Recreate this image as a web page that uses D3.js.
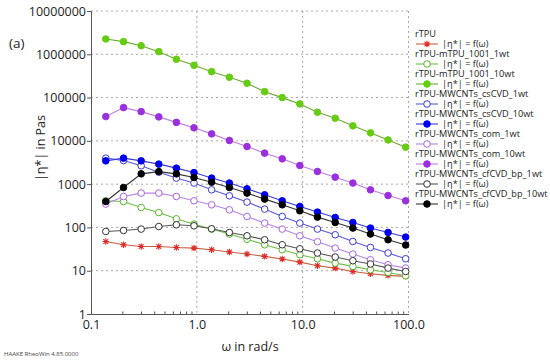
<!DOCTYPE html>
<html><head><meta charset="utf-8">
<script src="https://cdn.jsdelivr.net/npm/d3@7/dist/d3.min.js"></script>
<style>body{margin:0;background:#fff}svg{display:block}text{font-family:"Open Sans","Noto Sans",sans-serif}</style>
</head><body><svg id="c" width="550" height="362"></svg>
<script>
const omega = [0.138,0.203,0.298,0.437,0.641,0.94,1.38,2.03,2.98,4.37,6.41,9.4,13.8,20.3,29.8,43.7,64.1,94];
const names = ["rTPU","rTPU-mTPU_1001_1wt","rTPU-mTPU_1001_10wt","rTPU-MWCNTs_csCVD_1wt","rTPU-MWCNTs_csCVD_10wt","rTPU-MWCNTs_com_1wt","rTPU-MWCNTs_com_10wt","rTPU-MWCNTs_cfCVD_bp_1wt","rTPU-MWCNTs_cfCVD_bp_10wt"];
const rTPU = [47.4,39.8,36.3,36.3,34.4,33.3,30.5,27,24.3,21.4,18.6,15.8,13,11.5,9.6,8.5,7.8,7.4];
const mTPU_1wt = [412,397,288,221,158,119,91.6,70.3,53.3,39.8,30.5,23.4,18.9,15,12.6,10.5,9.1,7.65];
const mTPU_10wt = [2.26e6,1.96e6,1.58e6,1.15e6,7.68e5,5.58e5,3.97e5,2.95e5,2.14e5,1.37e5,9.98e4,7.14e4,4.59e4,3.34e4,2.22e4,1.53e4,1.05e4,7150];
const csCVD_1wt = [3990,3510,2650,1890,1380,1060,740,537,385,265,179,126,91.6,67.6,47.4,34.5,25.6,18.9];
const csCVD_10wt = [3450,3990,3450,2900,2340,1850,1380,1060,780,567,412,305,226,170,130,96.7,76.5,59.9];
const com_1wt = [346,518,621,621,518,412,333,255,179,126,91.6,64.1,46.7,33.3,24.3,17.9,13.7,11.5];
const com_10wt = [3.64e4,5.86e4,4.74e4,3.58e4,2.67e4,2.0e4,1.45e4,1.02e4,7380,5200,3840,2690,1960,1450,1060,740,546,412];
const cfCVD_1wt = [80.7,85.1,91.6,105,115,109,93.1,76.4,64.1,51.9,39.8,32.1,25.6,20.7,17,14.3,11.5,9.6];
const cfCVD_10wt = [397,836,1730,1950,1730,1420,1110,836,621,451,333,242,173,130,96.7,70.3,51.9,39.2];
const yTicks = [1,10,100,1000,10000,100000,1000000,10000000];
const xTicks = [0.1,1,10,100];
const xTickLabels = ["0.1","1.0","10.0","100.0"];

const seriesData = [rTPU,mTPU_1wt,mTPU_10wt,csCVD_1wt,csCVD_10wt,com_1wt,com_10wt,cfCVD_1wt,cfCVD_10wt];
const styles = [
 {line:"#c8603c", mark:"#e02a2a", type:"star"},
 {line:"#6cbf45", mark:"#55b52a", type:"open"},
 {line:"#6aaa30", mark:"#66cc11", type:"fill"},
 {line:"#5a5ad8", mark:"#3b3bd6", type:"open"},
 {line:"#3a3ad0", mark:"#0000ee", type:"fill"},
 {line:"#b784e4", mark:"#a865e0", type:"open"},
 {line:"#bf7de0", mark:"#9a30dd", type:"fill"},
 {line:"#555555", mark:"#333333", type:"open"},
 {line:"#333333", mark:"#000000", type:"fill"}
];

const svg = d3.select("#c");
const x = d3.scaleLog().domain([0.1,100]).range([91,408.5]);
const y = d3.scaleLog().domain([1,1e7]).range([314,11]);

// grid
svg.append("g").selectAll("line").data(yTicks.slice(1)).join("line")
  .attr("x1",91).attr("x2",408.5).attr("y1",d=>y(d)).attr("y2",d=>y(d))
  .attr("stroke","#a8a8a8").attr("stroke-width",1).attr("stroke-dasharray","2,3");
svg.append("g").selectAll("line").data(xTicks.slice(1)).join("line")
  .attr("x1",d=>x(d)).attr("x2",d=>x(d)).attr("y1",11).attr("y2",314)
  .attr("stroke","#a8a8a8").attr("stroke-width",1).attr("stroke-dasharray","2,3");

// axes
const yAxis = d3.axisLeft(y).tickValues(yTicks).tickFormat(d3.format("d")).tickSize(4).tickPadding(1);
const gy = svg.append("g").attr("transform","translate(91,0)").call(yAxis);
gy.select(".domain").attr("stroke","#555");
gy.selectAll(".tick line").attr("stroke","#555");
gy.selectAll("text").attr("font-size",12.5).attr("fill","#222").attr("font-family","'Open Sans',sans-serif");

const minor = [];
[0.1,1,10].forEach(b=>{for(let k=2;k<=9;k++) minor.push(b*k);});
const xAxis = d3.axisBottom(x).tickValues(xTicks).tickFormat((d,i)=>xTickLabels[i]).tickSize(0).tickPadding(6);
const gx = svg.append("g").attr("transform","translate(0,314)").call(xAxis);
gx.select(".domain").attr("stroke","#555");
gx.selectAll("text").attr("font-size",12.5).attr("fill","#222").attr("font-family","'Open Sans',sans-serif");
gx.append("g").selectAll("line").data(minor).join("line")
  .attr("x1",d=>x(d)).attr("x2",d=>x(d)).attr("y1",0).attr("y2",-2.5).attr("stroke","#555");

// series
const line = d3.line().x((d,i)=>x(omega[i])).y(d=>y(d));
function marker(g, cx, cy, st){
  if(st.type==="star"){
    const r=3.2;
    g.append("path").attr("d",`M${cx-r},${cy}H${cx+r}M${cx},${cy-r}V${cy+r}M${cx-r*0.75},${cy-r*0.75}L${cx+r*0.75},${cy+r*0.75}M${cx-r*0.75},${cy+r*0.75}L${cx+r*0.75},${cy-r*0.75}`)
      .attr("stroke",st.mark).attr("stroke-width",1.1).attr("fill","none");
  } else {
    g.append("circle").attr("cx",cx).attr("cy",cy).attr("r",3.3)
      .attr("fill",st.type==="fill"?st.mark:"#fff").attr("stroke",st.mark).attr("stroke-width",1);
  }
}
seriesData.forEach((vals,si)=>{
  const st = styles[si];
  const g = svg.append("g");
  g.append("path").attr("d",line(vals)).attr("fill","none").attr("stroke",st.line).attr("stroke-width",1.1);
  vals.forEach((v,i)=>marker(g,x(omega[i]),y(v),st));
});

// legend
const lg = svg.append("g");
names.forEach((n,i)=>{
  const ty = 34 + i*20;
  lg.append("text").attr("x",415).attr("y",ty+3.2).attr("font-size",9.2).attr("font-family","Lato, sans-serif").attr("fill","#222").text(n);
  const sy = ty + 10;
  lg.append("line").attr("x1",416).attr("x2",438).attr("y1",sy).attr("y2",sy).attr("stroke",styles[i].line).attr("stroke-width",1.1);
  marker(lg,427,sy,styles[i]);
  lg.append("text").attr("x",442).attr("y",sy+3.2).attr("font-size",9.2).attr("font-family","Lato, sans-serif").attr("fill","#222").text("|η*| = f(ω)");
});

// titles
svg.append("text").attr("x",250).attr("y",351).attr("text-anchor","middle").attr("font-size",12.5).attr("fill","#222").text("ω in rad/s");
svg.append("text").attr("transform","translate(45,148) rotate(-90)").attr("text-anchor","middle").attr("font-size",12.5).attr("fill","#222").text("|η*| in Pas");
svg.append("text").attr("x",9).attr("y",48).attr("font-size",13.5).attr("fill","#222").text("(a)");
svg.append("text").attr("x",4).attr("y",356).attr("font-size",6).attr("fill","#444").text("HAAKE RheoWin 4.85.0000");
</script></body></html>
